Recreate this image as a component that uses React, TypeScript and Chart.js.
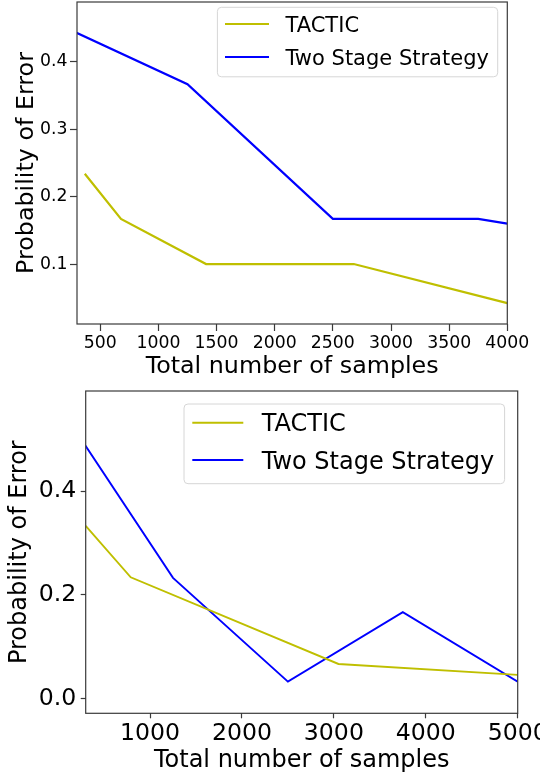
import React, { useEffect, useRef } from "react";
import { Chart, registerables } from "chart.js";

Chart.register(...registerables);

// ---------- data ----------
const seriesNames = ["TACTIC", "Two Stage Strategy"];
const seriesColors = ["#bfbf00", "#0000ff"];

const topTacticX = [367, 678, 1410, 2680, 4000];
const topTacticY = [0.234, 0.167, 0.1, 0.1, 0.042];
const topTwoStageX = [0, 1250, 2500, 3750, 4000];
const topTwoStageY = [0.467, 0.367, 0.167, 0.167, 0.16];

const bottomTacticX = [300, 790, 3050, 5000];
const bottomTacticY = [0.333, 0.234, 0.067, 0.046];
const bottomTwoStageX = [0, 1250, 2500, 3750, 5000];
const bottomTwoStageY = [0.567, 0.233, 0.033, 0.167, 0.033];

const topXTicks = [500, 1000, 1500, 2000, 2500, 3000, 3500, 4000];
const topYTicks = [0.1, 0.2, 0.3, 0.4];
const bottomXTicks = [1000, 2000, 3000, 4000, 5000];
const bottomYTicks = [0.0, 0.2, 0.4];

const xTitle = "Total number of samples";
const yTitle = "Probability of Error";

const FONT = "'DejaVu Sans', 'Liberation Sans', sans-serif";

// ---------- plugins ----------
const framePlugin = {
  id: "frame",
  afterDatasetsDraw(chart: any, _a: any, o: any) {
    const { ctx, chartArea: a } = chart;
    ctx.save();
    ctx.strokeStyle = o.color || "#333";
    ctx.lineWidth = o.width || 1.2;
    ctx.strokeRect(a.left, a.top, a.right - a.left, a.bottom - a.top);
    ctx.restore();
  },
};

const boxLegendPlugin = {
  id: "boxLegend",
  afterDatasetsDraw(chart: any, _a: any, o: any) {
    if (!o || !o.box) return;
    const ctx = chart.ctx;
    const [bx, by, bw, bh] = o.box;
    ctx.save();
    const r = 4;
    ctx.beginPath();
    ctx.moveTo(bx + r, by);
    ctx.lineTo(bx + bw - r, by);
    ctx.arcTo(bx + bw, by, bx + bw, by + r, r);
    ctx.lineTo(bx + bw, by + bh - r);
    ctx.arcTo(bx + bw, by + bh, bx + bw - r, by + bh, r);
    ctx.lineTo(bx + r, by + bh);
    ctx.arcTo(bx, by + bh, bx, by + bh - r, r);
    ctx.lineTo(bx, by + r);
    ctx.arcTo(bx, by, bx + r, by, r);
    ctx.closePath();
    ctx.fillStyle = "rgba(255,255,255,0.85)";
    ctx.fill();
    ctx.strokeStyle = "#d6d6d6";
    ctx.lineWidth = 1;
    ctx.stroke();
    chart.data.datasets.forEach((ds: any, i: number) => {
      const y = o.rowY[i];
      ctx.beginPath();
      ctx.strokeStyle = ds.borderColor;
      ctx.lineWidth = ds.borderWidth;
      ctx.moveTo(o.lineX0, y);
      ctx.lineTo(o.lineX1, y);
      ctx.stroke();
      ctx.fillStyle = "#000";
      ctx.font = `${o.fontSize}px ${FONT}`;
      ctx.textAlign = "left";
      ctx.textBaseline = "alphabetic";
      ctx.fillText(ds.label, o.textX, y + o.fontSize * 0.3645);
    });
    ctx.restore();
  },
};

type Cfg = {
  width: number;
  height: number;
  pad: { left: number; top: number; right: number; bottom: number };
  yAxisW: number;
  xAxisH: number;
  tickLen: number;
  xTickPad: number;
  yTickPad: number;
  tickSize: number;
  titleSize: number;
  xTitlePadBottom: number;
  lineWidth: number;
  legend: any;
};

function ErrorChart(props: {
  tacticX: number[];
  tacticY: number[];
  twoX: number[];
  twoY: number[];
  xMin: number;
  xMax: number;
  yMin: number;
  yMax: number;
  xTicks: number[];
  yTicks: number[];
  cfg: Cfg;
  top: number;
}) {
  const ref = useRef<HTMLCanvasElement | null>(null);
  const { tacticX, tacticY, twoX, twoY, xMin, xMax, yMin, yMax, xTicks, yTicks, cfg, top } = props;

  useEffect(() => {
    if (!ref.current) return;
    const chart = new Chart(ref.current, {
      type: "line",
      data: {
        datasets: [
          {
            label: seriesNames[0],
            data: tacticX.map((x, i) => ({ x, y: tacticY[i] })),
            borderColor: seriesColors[0],
            backgroundColor: seriesColors[0],
            borderWidth: cfg.lineWidth,
            pointRadius: 0,
            tension: 0,
          },
          {
            label: seriesNames[1],
            data: twoX.map((x, i) => ({ x, y: twoY[i] })),
            borderColor: seriesColors[1],
            backgroundColor: seriesColors[1],
            borderWidth: cfg.lineWidth,
            pointRadius: 0,
            tension: 0,
          },
        ],
      },
      options: {
        animation: false,
        responsive: false,
        maintainAspectRatio: false,
        devicePixelRatio: 1,
        layout: { padding: cfg.pad },
        plugins: {
          legend: { display: false },
          tooltip: { enabled: false },
          frame: { color: "#3a3a3a", width: 1.2 },
          boxLegend: cfg.legend,
        } as any,
        scales: {
          x: {
            type: "linear",
            min: xMin,
            max: xMax,
            afterBuildTicks: (s: any) => {
              s.ticks = xTicks.map((v) => ({ value: v }));
            },
            afterFit: (s: any) => {
              s.height = cfg.xAxisH;
              s.paddingLeft = 0;
              s.paddingRight = 0;
            },
            grid: {
              drawOnChartArea: false,
              drawTicks: true,
              tickLength: cfg.tickLen,
              tickColor: "#3a3a3a",
              tickWidth: 1.2,
            },
            border: { display: false },
            ticks: {
              font: { family: FONT, size: cfg.tickSize },
              color: "#000",
              padding: cfg.xTickPad,
              maxRotation: 0,
              autoSkip: false,
              callback: (v: any) => String(v),
            },
            title: {
              display: true,
              text: xTitle,
              font: { family: FONT, size: cfg.titleSize },
              color: "#000",
              padding: { top: 0, bottom: cfg.xTitlePadBottom },
            },
          },
          y: {
            type: "linear",
            min: yMin,
            max: yMax,
            afterBuildTicks: (s: any) => {
              s.ticks = yTicks.map((v) => ({ value: v }));
            },
            afterFit: (s: any) => {
              s.width = cfg.yAxisW;
              s.paddingTop = 0;
              s.paddingBottom = 0;
            },
            grid: {
              drawOnChartArea: false,
              drawTicks: true,
              tickLength: cfg.tickLen,
              tickColor: "#3a3a3a",
              tickWidth: 1.2,
            },
            border: { display: false },
            ticks: {
              font: { family: FONT, size: cfg.tickSize },
              color: "#000",
              padding: cfg.yTickPad,
              autoSkip: false,
              callback: (v: any) => Number(v).toFixed(1),
            },
            title: {
              display: true,
              text: yTitle,
              font: { family: FONT, size: cfg.titleSize },
              color: "#000",
              padding: 0,
            },
          },
        },
      } as any,
      plugins: [framePlugin, boxLegendPlugin],
    });
    return () => chart.destroy();
  }, []);

  return (
    <canvas
      ref={ref}
      width={cfg.width}
      height={cfg.height}
      style={{ position: "absolute", left: 0, top, width: cfg.width, height: cfg.height }}
    />
  );
}

const topCfg: Cfg = {
  width: 540,
  height: 390,
  pad: { left: 12.6, top: 2, right: 32.7, bottom: 9.2 },
  yAxisW: 64.4,
  xAxisH: 56.8,
  tickLen: 7,
  xTickPad: 2,
  yTickPad: 2.5,
  tickSize: 17.3,
  titleSize: 23.8,
  xTitlePadBottom: 0,
  lineWidth: 2.2,
  legend: {
    box: [217.4, 7.3, 280.3, 69.5],
    rowY: [24, 57],
    lineX0: 225,
    lineX1: 269,
    textX: 285.5,
    fontSize: 21,
  },
};

const bottomCfg: Cfg = {
  width: 540,
  height: 391,
  pad: { left: 5.3, top: 1, right: 22.3, bottom: 3.9 },
  yAxisW: 80.4,
  xAxisH: 63.8,
  tickLen: 5,
  xTickPad: 1.5,
  yTickPad: 4.5,
  tickSize: 23.6,
  titleSize: 24,
  xTitlePadBottom: 1.5,
  lineWidth: 1.9,
  legend: {
    box: [184, 14, 320.6, 79.7],
    rowY: [32.7, 70],
    lineX0: 192.3,
    lineX1: 243.3,
    textX: 261.7,
    fontSize: 24,
  },
};

export default function App() {
  return (
    <div
      style={{
        position: "absolute",
        left: 0,
        top: 0,
        width: 540,
        height: 781,
        overflow: "hidden",
        background: "#fff",
      }}
    >
      <ErrorChart
        tacticX={topTacticX}
        tacticY={topTacticY}
        twoX={topTwoStageX}
        twoY={topTwoStageY}
        xMin={300}
        xMax={4000}
        yMin={0.011}
        yMax={0.489}
        xTicks={topXTicks}
        yTicks={topYTicks}
        cfg={topCfg}
        top={0}
      />
      <ErrorChart
        tacticX={bottomTacticX}
        tacticY={bottomTacticY}
        twoX={bottomTwoStageX}
        twoY={bottomTwoStageY}
        xMin={300}
        xMax={5000}
        yMin={-0.028}
        yMax={0.593}
        xTicks={bottomXTicks}
        yTicks={bottomYTicks}
        cfg={bottomCfg}
        top={390}
      />
    </div>
  );
}
